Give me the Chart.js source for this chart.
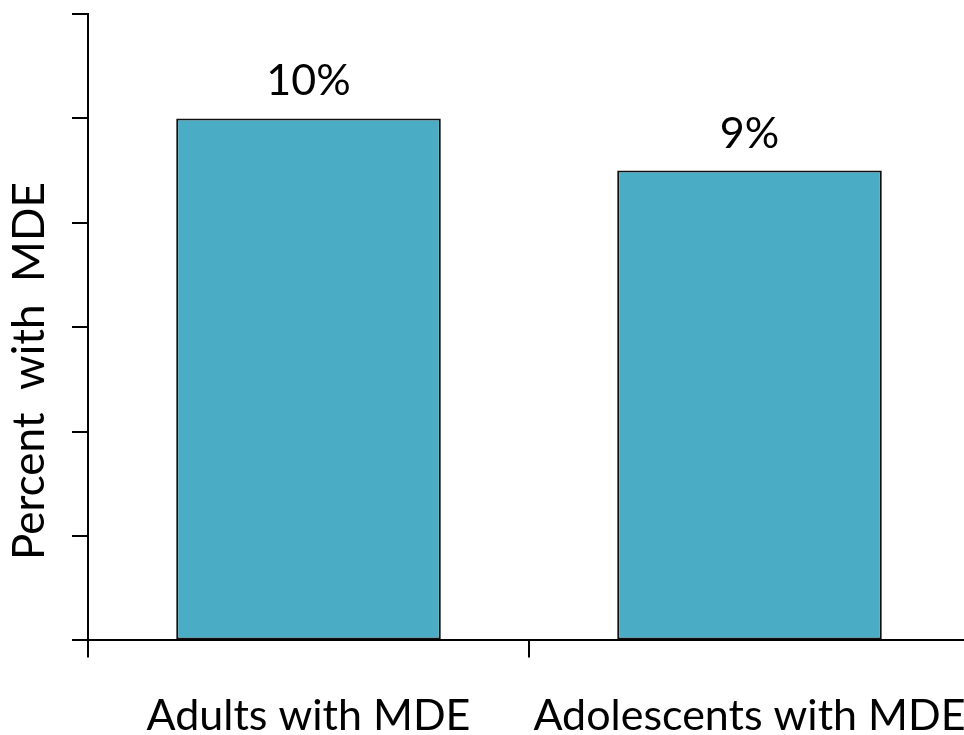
<!DOCTYPE html>
<html>
<head>
<meta charset="utf-8">
<script src="https://cdn.jsdelivr.net/npm/chart.js@4/dist/chart.umd.min.js"></script>
<style>
  html, body { margin: 0; padding: 0; background: #ffffff; overflow: hidden; }
  canvas { display: block; }
</style>
</head>
<body>
<canvas id="chart" width="970" height="775"></canvas>
<script>
// Share of each group with a major depressive episode (percent)
const categories = ['Adults with MDE', 'Adolescents with MDE'];
const percentValues = [10, 9];
const valueLabels = ['10%', '9%'];
const yAxisTitle = 'Percent  with  MDE';

const FONT = 'Lato, "Open Sans", sans-serif';
const FONT_SIZE = 43;
const INK = '#000000';

// Value labels above each bar
const barLabels = {
  id: 'barLabels',
  afterDatasetsDraw(chart) {
    const ctx = chart.ctx;
    const meta = chart.getDatasetMeta(0);
    ctx.save();
    ctx.font = FONT_SIZE + 'px ' + FONT;
    ctx.fillStyle = INK;
    ctx.textAlign = 'center';
    ctx.textBaseline = 'alphabetic';
    meta.data.forEach((bar, i) => {
      ctx.fillText(valueLabels[i], bar.x, bar.y - 23);
    });
    ctx.restore();
  }
};

// Rotated y-axis title, drawn left of the axis
const yTitle = {
  id: 'yTitle',
  afterDraw(chart) {
    const ctx = chart.ctx;
    const area = chart.chartArea;
    ctx.save();
    ctx.font = '44px ' + FONT;
    ctx.fillStyle = INK;
    ctx.textAlign = 'center';
    ctx.textBaseline = 'alphabetic';
    ctx.translate(44, area.top + (area.bottom - area.top) * 0.57);
    ctx.rotate(-Math.PI / 2);
    ctx.fillText(yAxisTitle, 0, 0);
    ctx.restore();
  }
};

new Chart(document.getElementById('chart'), {
  type: 'bar',
  data: {
    labels: categories,
    datasets: [{
      data: percentValues,
      backgroundColor: '#4BACC6',
      borderColor: '#111111',
      borderWidth: 2,
      borderSkipped: false,
      barPercentage: 0.6,
      categoryPercentage: 1.0
    }]
  },
  options: {
    responsive: false,
    animation: false,
    layout: { padding: { left: 72, top: 14, right: 0, bottom: 0 } },
    plugins: { legend: { display: false }, tooltip: { enabled: false } },
    scales: {
      x: {
        offset: true,
        // let the long category names run to the canvas edge
        afterFit(scale) { scale.paddingLeft = 0; scale.paddingRight = 0; },
        border: { display: true, color: INK, width: 2 },
        grid: { display: true, offset: true, drawOnChartArea: false, drawTicks: true, tickLength: 17, color: INK, lineWidth: 2 },
        ticks: { color: INK, font: { family: FONT, size: FONT_SIZE }, padding: 33, maxRotation: 0, autoSkip: false }
      },
      y: {
        min: 0,
        max: 12,
        border: { display: true, color: INK, width: 2 },
        grid: { display: true, drawOnChartArea: false, drawTicks: true, tickLength: 16, color: INK, lineWidth: 2 },
        ticks: { display: false, stepSize: 2 }
      }
    }
  },
  plugins: [barLabels, yTitle]
});
</script>
</body>
</html>
